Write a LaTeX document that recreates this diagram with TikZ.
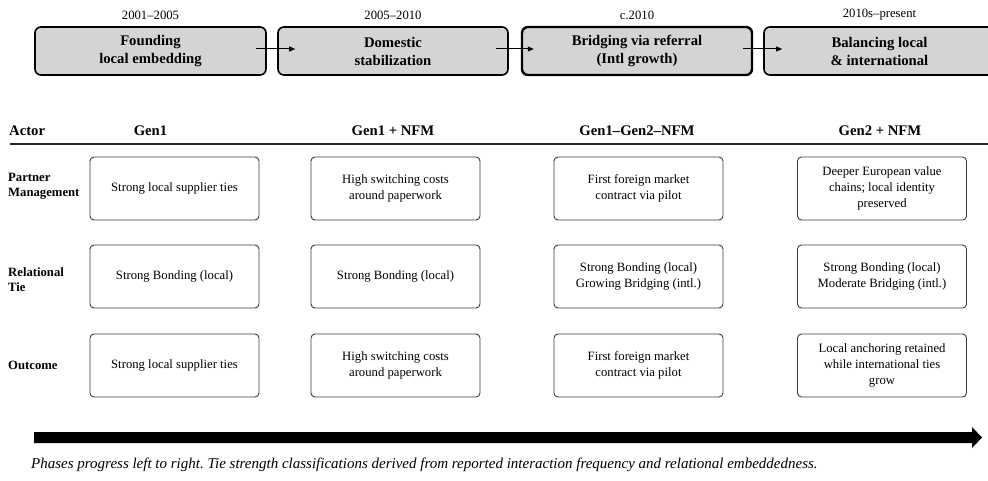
\documentclass[tikz,border=0pt]{standalone}
\usepackage{fontspec}
\setmainfont{Liberation Serif}
\usetikzlibrary{arrows.meta}
\definecolor{phasegray}{RGB}{212,212,212}
\definecolor{cellgray}{RGB}{60,60,60}
\begin{document}
\frenchspacing
\begin{tikzpicture}[x=1pt,y=-1pt,
  phasebox/.style={draw=black, line width=1.6pt, fill=phasegray, rounded corners=6pt,
    minimum width=230pt, minimum height=48pt, inner sep=0pt, align=center,
    font=\fontsize{14.7}{18}\selectfont\bfseries},
  keybox/.style={phasebox, line width=2.4pt},
  yearlab/.style={font=\fontsize{12.7}{15}\selectfont},
  flow/.style={line width=1pt, -{Triangle[length=6pt,width=5pt]}},
  colhead/.style={font=\fontsize{14.7}{17}\selectfont\bfseries},
  rowlab/.style={anchor=west, align=left, inner sep=0pt, font=\fontsize{12.7}{15}\selectfont\bfseries},
  cellbox/.style={draw=cellgray, line width=0.9pt, rounded corners=4pt,
    minimum width=169pt, minimum height=63pt, inner sep=0pt, align=center,
    font=\fontsize{12.7}{16}\selectfont},
  caption/.style={anchor=base west, inner sep=0pt, font=\fontsize{15}{17}\selectfont\itshape}
]
\useasboundingbox (0,0) rectangle (988,481);
\clip (0,0) rectangle (988,481);

% phase boxes
\node[phasebox, minimum width=231pt] (p1) at (150.5,51) {Founding\\local embedding};
\node[phasebox] (p2) at (393,51) {Domestic\\stabilization};
\node[keybox] (p3) at (637,51) {Bridging via referral\\(Intl growth)};
\node[phasebox, minimum width=231pt] (p4) at (879.5,51) {Balancing local\\\& international};

% year labels
\node[yearlab] (y1) at (150.5,15) {2001–2005};
\node[yearlab] (y2) at (393,15) {2005–2010};
\node[yearlab] (y3) at (637,15) {c.2010};
\node[yearlab] (y4) at (879.5,15) {2010s–present};

% phase arrows
\draw[flow] ([xshift=-11pt,yshift=2pt]p1.east) -- ([xshift=18pt,yshift=2pt]p2.west);
\draw[flow] ([xshift=-13pt,yshift=2pt]p2.east) -- ([xshift=13pt,yshift=2pt]p3.west);
\draw[flow] ([xshift=-10pt,yshift=2pt]p3.east) -- ([xshift=19pt,yshift=2pt]p4.west);

% header row
\node[colhead, anchor=west, inner sep=0pt] (actor) at (9,131) {Actor};
\node[colhead] (h1) at (150.5,131) {Gen1};
\node[colhead] (h2) at (393,131) {Gen1 + NFM};
\node[colhead] (h3) at (637,131) {Gen1–Gen2–NFM};
\node[colhead] (h4) at (880,131) {Gen2 + NFM};
\coordinate (hl) at (10,144);
\coordinate (hr) at (988,144);
\draw[line width=1.2pt, draw=black!85] (hl) -- (hr);

% row labels
\node[rowlab] (r1) at (8,186) {Partner\\Management};
\node[rowlab] (r2) at (8,279.5) {Relational\\Tie};
\node[rowlab] (r3) at (8,365) {Outcome};

% cells row 1
\node[cellbox] (c11) at (174.5,188.5) {Strong local supplier ties};
\node[cellbox] (c12) at (395.5,188.5) {High switching costs\\around paperwork};
\node[cellbox] (c13) at (638.5,188.5) {First foreign market\\contract via pilot};
\node[cellbox] (c14) at (882,188.5) {Deeper European value\\chains; local identity\\preserved};
% cells row 2
\node[cellbox] (c21) at (174.5,276.5) {Strong Bonding (local)};
\node[cellbox] (c22) at (395.5,276.5) {Strong Bonding (local)};
\node[cellbox] (c23) at (638.5,276.5) {Strong Bonding (local)\\Growing Bridging (intl.)};
\node[cellbox] (c24) at (882,276.5) {Strong Bonding (local)\\Moderate Bridging (intl.)};
% cells row 3
\node[cellbox] (c31) at (174.5,365.5) {Strong local supplier ties};
\node[cellbox] (c32) at (395.5,365.5) {High switching costs\\around paperwork};
\node[cellbox] (c33) at (638.5,365.5) {First foreign market\\contract via pilot};
\node[cellbox] (c34) at (882,365.5) {Local anchoring retained\\while international ties\\grow};

% timeline arrow
\coordinate (ta) at (34,432);
\coordinate (tb) at (972,432);
\coordinate (tc) at (972,427);
\coordinate (td) at (982,437.5);
\coordinate (te) at (972,448);
\coordinate (tf) at (972,443);
\coordinate (tg) at (34,443);
\fill[black] (ta) -- (tb) -- (tc) -- (td) -- (te) -- (tf) -- (tg) -- cycle;

% caption
\node[caption] (cap) at (31,468) {Phases progress left to right. Tie strength classifications derived from reported interaction frequency and relational embeddedness.};
\end{tikzpicture}
\end{document}
